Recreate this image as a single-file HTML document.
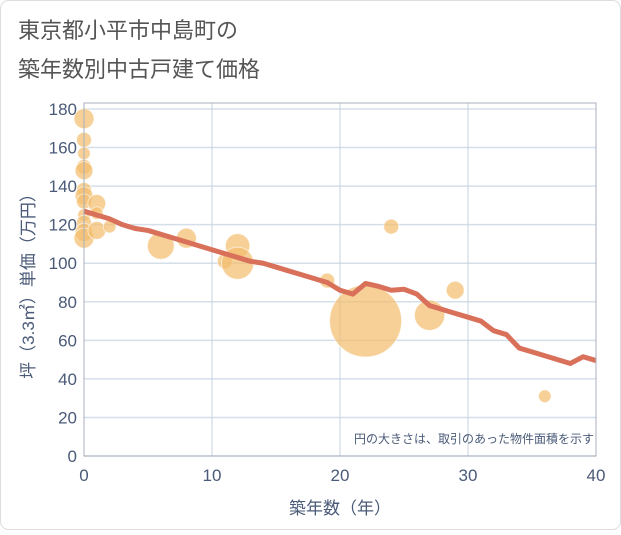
<!DOCTYPE html>
<html><head><meta charset="utf-8"><style>
body{margin:0;background:#fff;}
svg text{font-family:"Liberation Sans","Noto Sans CJK JP",sans-serif;}
</style></head><body>
<svg width="621" height="530" viewBox="0 0 621 530">
<rect x="0.5" y="0.5" width="620" height="529" rx="8" fill="#fff" stroke="#ddd"/>
<text x="18" y="38" font-size="22" fill="#555">東京都小平市中島町の</text>
<text x="18" y="77" font-size="22" fill="#555">築年数別中古戸建て価格</text>
<g id="grid"></g>
<g id="bubbles"></g>
<g id="line"></g>
<g id="axes"></g>
<text x="594" y="443" font-size="12" fill="#4a5a78" text-anchor="end">円の大きさは、取引のあった物件面積を示す</text>
<text x="340" y="514" font-size="17" fill="#4a5a78" text-anchor="middle">築年数（年）</text>
<text transform="translate(34,282) rotate(-90)" font-size="17" fill="#4a5a78" text-anchor="middle">坪（3.3㎡）単価（万円）</text>
</svg>
<script>
const xTicks=[0,10,20,30,40];
const yTicks=[0,20,40,60,80,100,120,140,160,180];
const lineYears=[0,1,2,3,4,5,6,7,8,9,10,11,12,13,14,15,16,17,18,19,20,21,22,23,24,25,26,27,28,29,30,31,32,33,34,35,36,37,38,39,40];
const lineValues=[127,125,123,120,118,117,115,113,111,109,107,105,103,101,100,98,96,94,92,90,86,84,89.5,88,86,86.5,84,78,76,74,72,70,65,63,56,54,52,50,48,51.5,49.5];
const bubbleX=[0,0,0,0,0,0,0,0,0,0,0,0,1,1,1,2,6,8,11,12,12,19,22,24,27,29,36];
const bubbleY=[175,164,157,150,148,138,135,132,125,121,116,113,131,126,117,119,109,113,101,109,100,91,70,119,73,86,31];
const bubbleArea=[100,56,40,56,80,56,80,56,40,56,80,100,80,40,80,40,180,100,56,150,260,56,1296,56,230,80,40];
const NS='http://www.w3.org/2000/svg';
const X0=84,X1=596,Y0=456,Y1=109;
const sx=v=>X0+(X1-X0)*v/40;
const sy=v=>Y0-(Y0-Y1)*v/180;
function mk(tag,attrs,parent){const e=document.createElementNS(NS,tag);for(const k in attrs)e.setAttribute(k,attrs[k]);parent.appendChild(e);return e;}
const grid=document.getElementById('grid'),axes=document.getElementById('axes');
yTicks.forEach(t=>{
 const l=mk('line',{x1:X0,x2:X1,y1:sy(t),y2:sy(t),stroke:'#d5dfe9','stroke-width':1.5},grid);
 
 
 const tx=mk('text',{x:X0-7,y:sy(t)+6,'font-size':17,fill:'#4a5a78','text-anchor':'end'},axes);
 tx.textContent=t;
 
 
});
xTicks.forEach(t=>{
 const l=mk('line',{x1:sx(t),x2:sx(t),y1:103,y2:Y0,stroke:'#c8d3df','stroke-width':1},grid);
 
 
 const tx=mk('text',{x:sx(t),y:Y0+25,'font-size':17,fill:'#4a5a78','text-anchor':'middle'},axes);
 tx.textContent=t;
 
 
});
const fr=mk('rect',{x:X0,y:103,width:X1-X0,height:Y0-103,fill:'none',stroke:'#a8b0bc','stroke-width':1},axes);


const bg=document.getElementById('bubbles');
bubbleX.forEach((x,i)=>{
 const c=mk('circle',{cx:sx(x),cy:sy(bubbleY[i]),r:Math.sqrt(bubbleArea[i]),fill:'rgba(242,190,110,0.72)',stroke:'rgba(255,255,255,0.6)','stroke-width':1},bg);
 
 
});
const pts=lineYears.map((x,i)=>sx(x)+','+sy(lineValues[i])).join(' ');
const pl=mk('polyline',{points:pts,fill:'none',stroke:'#d9705a','stroke-width':5,'stroke-linejoin':'round'},document.getElementById('line'));


</script>
</body></html>
